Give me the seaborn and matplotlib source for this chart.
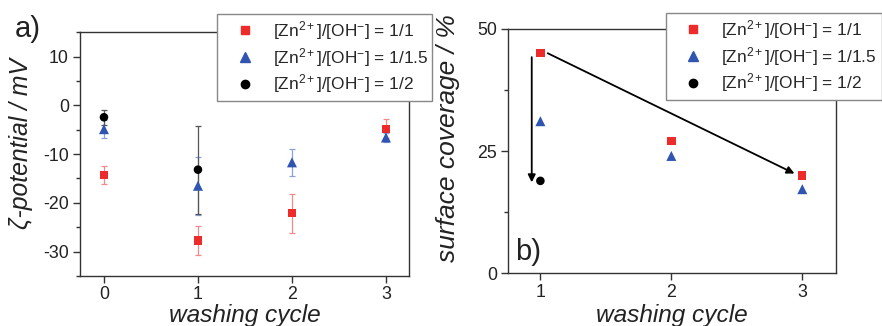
import numpy as np
import pandas as pd
import matplotlib
matplotlib.use("Agg")
import matplotlib.pyplot as plt
import seaborn as sns
from matplotlib.ticker import MultipleLocator
from matplotlib.lines import Line2D

sns.set_style("ticks")
plt.rcParams['font.family'] = ['Liberation Sans', 'DejaVu Sans']
plt.rcParams['mathtext.fontset'] = 'custom'
plt.rcParams['mathtext.rm'] = 'Liberation Sans'
plt.rcParams['mathtext.it'] = 'Liberation Sans:italic'
plt.rcParams['axes.unicode_minus'] = False

# ---- data ----
labels = [r'[Zn$^{2+}$]/[OH$^{-}$] = 1/1',
          r'[Zn$^{2+}$]/[OH$^{-}$] = 1/1.5',
          r'[Zn$^{2+}$]/[OH$^{-}$] = 1/2']

# panel a: zeta potential
zeta_cycle_11 = [0, 1, 2, 3]
zeta_11 = [-14.3, -27.7, -22.1, -4.8]
zeta_err_11 = [1.8, 3.0, 4.0, 2.0]
zeta_cycle_115 = [0, 1, 2, 3]
zeta_115 = [-4.9, -16.5, -11.7, -6.6]
zeta_err_115 = [1.9, 6.0, 2.7, 1.0]
zeta_cycle_12 = [0, 1]
zeta_12 = [-2.45, -13.2]
zeta_err_12 = [1.5, 9.0]

# panel b: surface coverage
cov_cycle_11 = [1, 2, 3]
cov_11 = [45.0, 27.0, 20.0]
cov_cycle_115 = [1, 2, 3]
cov_115 = [31.1, 24.0, 17.2]
cov_cycle_12 = [1]
cov_12 = [18.9]

colors = ['#ee2b2b', '#2f55b0', '#000000']
err_colors = ['#f28a8a', '#8aa0d8', '#555555']
markers = ['s', '^', 'o']
marker_sizes = [36, 52, 38]

dfa = pd.DataFrame({
    'cycle': zeta_cycle_11 + zeta_cycle_115 + zeta_cycle_12,
    'zeta': zeta_11 + zeta_115 + zeta_12,
    'err': zeta_err_11 + zeta_err_115 + zeta_err_12,
    'ratio': [labels[0]] * 4 + [labels[1]] * 4 + [labels[2]] * 2,
})
dfb = pd.DataFrame({
    'cycle': cov_cycle_11 + cov_cycle_115 + cov_cycle_12,
    'cov': cov_11 + cov_115 + cov_12,
    'ratio': [labels[0]] * 3 + [labels[1]] * 3 + [labels[2]] * 1,
})

pal = dict(zip(labels, colors))
mk = dict(zip(labels, markers))
sz = dict(zip(labels, marker_sizes))

fig = plt.figure(figsize=(8.82, 3.26), dpi=100)
axa = fig.add_axes([0.0907, 0.1534, 0.373, 0.748])
axb = fig.add_axes([0.5763, 0.1617, 0.3712, 0.750])

# error bars
for lab, ec in zip(labels, err_colors):
    sub = dfa[dfa['ratio'] == lab]
    axa.errorbar(sub['cycle'], sub['zeta'], yerr=sub['err'], fmt='none',
                 ecolor=ec, elinewidth=0.9, capsize=2.5, capthick=0.9, zorder=1)

sns.scatterplot(data=dfa, x='cycle', y='zeta', hue='ratio', style='ratio',
                size='ratio', sizes=sz,
                palette=pal, markers=mk, edgecolor='none', ax=axa,
                zorder=3, legend=False)
sns.scatterplot(data=dfb, x='cycle', y='cov', hue='ratio', style='ratio',
                size='ratio', sizes=sz,
                palette=pal, markers=mk, edgecolor='none', ax=axb,
                zorder=3, legend=False)

for ax in (axa, axb):
    for sp in ax.spines.values():
        sp.set_visible(True)
        sp.set_linewidth(1.0)
        sp.set_color('#333333')
    ax.tick_params(direction='out', length=5, width=1.0, labelsize=12.8,
                   colors='#333333', labelcolor='#222222', pad=3)
    ax.tick_params(axis='x', pad=2.5)
    ax.tick_params(which='minor', direction='out', length=3, width=1.0, colors='#333333')
    ax.tick_params(right=False, top=False)

axa.set_xlim(-0.255, 3.245)
axa.set_ylim(-35, 15)
axa.set_xticks([0, 1, 2, 3])
axa.yaxis.set_major_locator(MultipleLocator(10))
axa.yaxis.set_minor_locator(MultipleLocator(5))
axa.set_ylabel('ζ-potential / mV', fontsize=17.8, style='italic', color='#222222')
axa.set_xlabel('washing cycle', fontsize=17.6, style='italic', color='#222222')
axa.yaxis.set_label_coords(-0.143, 0.543)
axa.xaxis.set_label_coords(0.5, -0.113)

axb.set_xlim(0.755, 3.255)
axb.set_ylim(0, 50)
axb.set_xticks([1, 2, 3])
axb.set_yticks([0, 25, 50])
axb.yaxis.set_minor_locator(MultipleLocator(12.5))
axb.set_ylabel('surface coverage / %', fontsize=19, style='italic', color='#222222')
axb.set_xlabel('washing cycle', fontsize=17.6, style='italic', color='#222222')
axb.yaxis.set_label_coords(-0.148, 0.553)
axb.xaxis.set_label_coords(0.5, -0.124)

# arrows
axb.annotate('', xy=(0.934, 18.6), xytext=(0.934, 44.2),
             arrowprops=dict(arrowstyle='-|>', color='black', lw=1.3,
                             mutation_scale=11, shrinkA=0, shrinkB=0))
axb.annotate('', xy=(2.94, 20.4), xytext=(1.056, 45.0),
             arrowprops=dict(arrowstyle='-|>', color='black', lw=1.3,
                             mutation_scale=11, shrinkA=0, shrinkB=0))

# legends
handles = [Line2D([], [], linestyle='none', marker=m, color=c, markersize=ms)
           for m, c, ms in zip(markers, colors, [6, 7, 6])]
for bbox in ((0.2465, 0.702, 0.2433, 0.255), (0.755, 0.687, 0.245, 0.273)):
    leg = fig.legend(handles, labels, loc='upper left', bbox_to_anchor=bbox,
                     bbox_transform=fig.transFigure, mode='expand', fontsize=12.4,
                     frameon=True, fancybox=False, framealpha=1, edgecolor='#888888',
                     borderpad=0.3, labelspacing=0.22, handletextpad=0.3,
                     handlelength=2.6, borderaxespad=0)
    leg.get_frame().set_linewidth(1.0)

fig.text(0.017, 0.886, 'a)', fontsize=21, color='#222222')
axb.text(0.022, 0.054, 'b)', fontsize=21, color='#222222', transform=axb.transAxes)

fig.savefig('out.png', dpi=100)
